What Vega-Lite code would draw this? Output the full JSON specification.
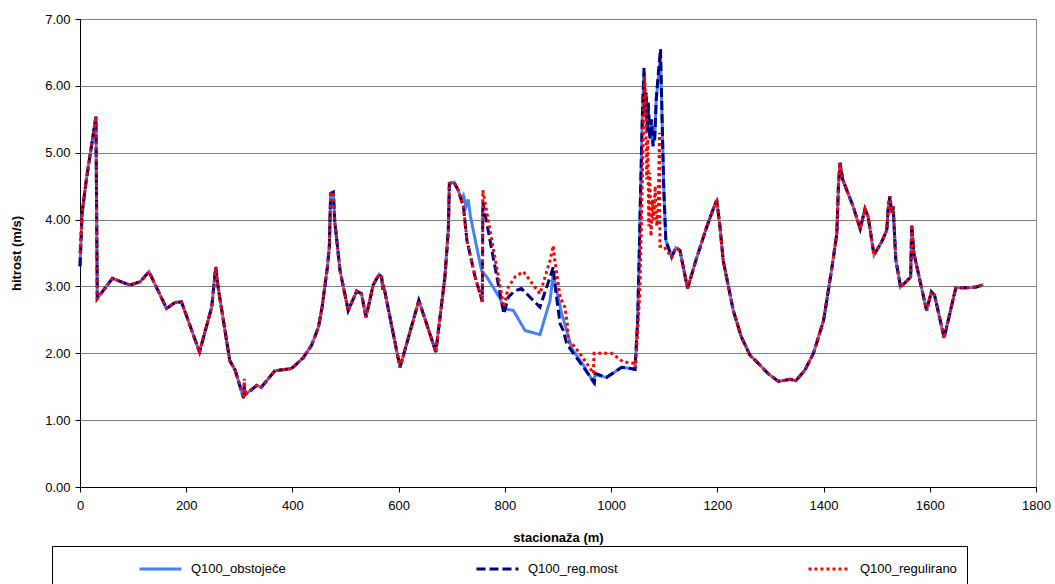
{
  "$schema": "https://vega.github.io/schema/vega-lite/v6.json",
  "width": 956,
  "height": 468,
  "autosize": {"type": "none"},
  "padding": {"left": 80, "top": 19, "right": 19, "bottom": 97},
  "background": "white",
  "config": {
    "font": "Liberation Sans",
    "view": {"stroke": "#888888", "strokeWidth": 1},
    "axis": {"domainColor": "#000000", "tickColor": "#000000", "gridColor": "#808080", "gridWidth": 1, "labelColor": "#000000", "titleColor": "#000000", "labelFontSize": 13, "titleFontSize": 13, "titleFontWeight": "bold", "tickSize": 5, "labelFont": "Liberation Sans", "titleFont": "Liberation Sans"}
  },
  "datasets": {
    "rows": [
      {"s":0,"v":3.3,"k":"Q100_obstoječe"},{"s":4,"v":4.1,"k":"Q100_obstoječe"},{"s":12,"v":4.6,"k":"Q100_obstoječe"},{"s":30,"v":5.54,"k":"Q100_obstoječe"},{"s":32.5,"v":2.82,"k":"Q100_obstoječe"},{"s":61,"v":3.12,"k":"Q100_obstoječe"},{"s":94,"v":3.02,"k":"Q100_obstoječe"},{"s":113,"v":3.07,"k":"Q100_obstoječe"},{"s":130,"v":3.22,"k":"Q100_obstoječe"},{"s":163,"v":2.67,"k":"Q100_obstoječe"},{"s":179,"v":2.76,"k":"Q100_obstoječe"},{"s":191,"v":2.77,"k":"Q100_obstoječe"},{"s":225,"v":2.02,"k":"Q100_obstoječe"},{"s":248,"v":2.69,"k":"Q100_obstoječe"},{"s":255.5,"v":3.29,"k":"Q100_obstoječe"},{"s":260,"v":2.99,"k":"Q100_obstoječe"},{"s":282,"v":1.89,"k":"Q100_obstoječe"},{"s":292,"v":1.75,"k":"Q100_obstoječe"},{"s":308,"v":1.33,"k":"Q100_obstoječe"},{"s":309.5,"v":1.5,"k":"Q100_obstoječe"},{"s":310.5,"v":1.38,"k":"Q100_obstoječe"},{"s":333,"v":1.52,"k":"Q100_obstoječe"},{"s":341,"v":1.49,"k":"Q100_obstoječe"},{"s":367,"v":1.74,"k":"Q100_obstoječe"},{"s":398,"v":1.77,"k":"Q100_obstoječe"},{"s":420,"v":1.93,"k":"Q100_obstoječe"},{"s":436,"v":2.12,"k":"Q100_obstoječe"},{"s":449,"v":2.39,"k":"Q100_obstoječe"},{"s":456,"v":2.7,"k":"Q100_obstoječe"},{"s":461,"v":3.0,"k":"Q100_obstoječe"},{"s":466,"v":3.3,"k":"Q100_obstoječe"},{"s":469.5,"v":3.6,"k":"Q100_obstoječe"},{"s":471,"v":4.1,"k":"Q100_obstoječe"},{"s":472,"v":4.39,"k":"Q100_obstoječe"},{"s":477,"v":4.41,"k":"Q100_obstoječe"},{"s":479.5,"v":3.99,"k":"Q100_obstoječe"},{"s":489.5,"v":3.24,"k":"Q100_obstoječe"},{"s":505,"v":2.64,"k":"Q100_obstoječe"},{"s":521,"v":2.93,"k":"Q100_obstoječe"},{"s":530,"v":2.89,"k":"Q100_obstoječe"},{"s":538.5,"v":2.54,"k":"Q100_obstoječe"},{"s":552,"v":3.02,"k":"Q100_obstoječe"},{"s":563,"v":3.18,"k":"Q100_obstoječe"},{"s":568,"v":3.14,"k":"Q100_obstoječe"},{"s":570,"v":2.95,"k":"Q100_obstoječe"},{"s":571.5,"v":3.02,"k":"Q100_obstoječe"},{"s":602.5,"v":1.79,"k":"Q100_obstoječe"},{"s":638,"v":2.79,"k":"Q100_obstoječe"},{"s":670,"v":2.02,"k":"Q100_obstoječe"},{"s":687,"v":3.14,"k":"Q100_obstoječe"},{"s":693.5,"v":3.84,"k":"Q100_obstoječe"},{"s":695.5,"v":4.54,"k":"Q100_obstoječe"},{"s":704,"v":4.56,"k":"Q100_obstoječe"},{"s":712,"v":4.44,"k":"Q100_obstoječe"},
      {"s":718,"v":4.3,"k":"Q100_obstoječe"},{"s":722,"v":4.36,"k":"Q100_obstoječe"},{"s":727,"v":4.2,"k":"Q100_obstoječe"},{"s":731,"v":4.3,"k":"Q100_obstoječe"},{"s":735,"v":4.05,"k":"Q100_obstoječe"},{"s":756,"v":3.24,"k":"Q100_obstoječe"},{"s":766,"v":3.14,"k":"Q100_obstoječe"},{"s":791,"v":2.82,"k":"Q100_obstoječe"},{"s":798,"v":2.67,"k":"Q100_obstoječe"},{"s":816,"v":2.64,"k":"Q100_obstoječe"},{"s":838,"v":2.34,"k":"Q100_obstoječe"},{"s":866,"v":2.28,"k":"Q100_obstoječe"},{"s":885,"v":2.79,"k":"Q100_obstoječe"},{"s":891,"v":3.18,"k":"Q100_obstoječe"},{"s":897.5,"v":2.94,"k":"Q100_obstoječe"},{"s":907,"v":2.59,"k":"Q100_obstoječe"},{"s":916.5,"v":2.34,"k":"Q100_obstoječe"},{"s":926,"v":2.07,"k":"Q100_obstoječe"},{"s":948,"v":1.82,"k":"Q100_obstoječe"},{"s":966.5,"v":1.57,"k":"Q100_obstoječe"},{"s":970,"v":1.68,"k":"Q100_obstoječe"},{"s":991.5,"v":1.64,"k":"Q100_obstoječe"},{"s":1020,"v":1.79,"k":"Q100_obstoječe"},{"s":1039,"v":1.77,"k":"Q100_obstoječe"},{"s":1045,"v":1.76,"k":"Q100_obstoječe"},{"s":1050,"v":2.5,"k":"Q100_obstoječe"},{"s":1053,"v":3.5,"k":"Q100_obstoječe"},{"s":1056,"v":4.6,"k":"Q100_obstoječe"},{"s":1059,"v":5.6,"k":"Q100_obstoječe"},{"s":1062,"v":6.2,"k":"Q100_obstoječe"},{"s":1064,"v":5.65,"k":"Q100_obstoječe"},{"s":1066,"v":5.85,"k":"Q100_obstoječe"},{"s":1068,"v":5.3,"k":"Q100_obstoječe"},{"s":1070,"v":5.7,"k":"Q100_obstoječe"},{"s":1073,"v":5.2,"k":"Q100_obstoječe"},{"s":1076,"v":5.45,"k":"Q100_obstoječe"},{"s":1079,"v":5.15,"k":"Q100_obstoječe"},{"s":1082,"v":5.2,"k":"Q100_obstoječe"},{"s":1085,"v":5.8,"k":"Q100_obstoječe"},{"s":1089,"v":6.15,"k":"Q100_obstoječe"},{"s":1093,"v":6.45,"k":"Q100_obstoječe"},{"s":1096,"v":5.5,"k":"Q100_obstoječe"},{"s":1099,"v":4.5,"k":"Q100_obstoječe"},{"s":1103,"v":3.69,"k":"Q100_obstoječe"},
      {"s":1114,"v":3.44,"k":"Q100_obstoječe"},{"s":1122,"v":3.58,"k":"Q100_obstoječe"},{"s":1129.5,"v":3.54,"k":"Q100_obstoječe"},{"s":1144,"v":2.97,"k":"Q100_obstoječe"},{"s":1160,"v":3.4,"k":"Q100_obstoječe"},{"s":1180,"v":3.89,"k":"Q100_obstoječe"},{"s":1197,"v":4.26,"k":"Q100_obstoječe"},{"s":1199,"v":4.28,"k":"Q100_obstoječe"},{"s":1205,"v":3.89,"k":"Q100_obstoječe"},{"s":1211,"v":3.39,"k":"Q100_obstoječe"},{"s":1230,"v":2.64,"k":"Q100_obstoječe"},{"s":1245,"v":2.25,"k":"Q100_obstoječe"},{"s":1261.5,"v":1.97,"k":"Q100_obstoječe"},{"s":1277,"v":1.85,"k":"Q100_obstoječe"},{"s":1295,"v":1.7,"k":"Q100_obstoječe"},{"s":1315,"v":1.58,"k":"Q100_obstoječe"},{"s":1337,"v":1.61,"k":"Q100_obstoječe"},{"s":1348,"v":1.59,"k":"Q100_obstoječe"},{"s":1365,"v":1.75,"k":"Q100_obstoječe"},{"s":1381,"v":2.0,"k":"Q100_obstoječe"},{"s":1400,"v":2.49,"k":"Q100_obstoječe"},{"s":1415,"v":3.24,"k":"Q100_obstoječe"},{"s":1425,"v":3.79,"k":"Q100_obstoječe"},{"s":1428,"v":4.5,"k":"Q100_obstoječe"},{"s":1431,"v":4.85,"k":"Q100_obstoječe"},{"s":1436,"v":4.6,"k":"Q100_obstoječe"},{"s":1456,"v":4.19,"k":"Q100_obstoječe"},{"s":1469,"v":3.86,"k":"Q100_obstoječe"},{"s":1478,"v":4.16,"k":"Q100_obstoječe"},{"s":1484,"v":4.04,"k":"Q100_obstoječe"},{"s":1495,"v":3.47,"k":"Q100_obstoječe"},{"s":1509,"v":3.66,"k":"Q100_obstoječe"},{"s":1519,"v":3.84,"k":"Q100_obstoječe"},{"s":1522,"v":4.2,"k":"Q100_obstoječe"},{"s":1525,"v":4.35,"k":"Q100_obstoječe"},{"s":1528,"v":4.1,"k":"Q100_obstoječe"},{"s":1531,"v":4.2,"k":"Q100_obstoječe"},{"s":1536,"v":3.4,"k":"Q100_obstoječe"},{"s":1545,"v":2.99,"k":"Q100_obstoječe"},{"s":1564,"v":3.14,"k":"Q100_obstoječe"},{"s":1566,"v":3.92,"k":"Q100_obstoječe"},{"s":1570,"v":3.5,"k":"Q100_obstoječe"},{"s":1594,"v":2.64,"k":"Q100_obstoječe"},{"s":1603,"v":2.92,"k":"Q100_obstoječe"},{"s":1609,"v":2.87,"k":"Q100_obstoječe"},{"s":1627,"v":2.23,"k":"Q100_obstoječe"},{"s":1649,"v":2.98,"k":"Q100_obstoječe"},{"s":1669,"v":2.98,"k":"Q100_obstoječe"},{"s":1688,"v":2.99,"k":"Q100_obstoječe"},{"s":1701,"v":3.03,"k":"Q100_obstoječe"},

      {"s":0,"v":3.3,"k":"Q100_reg.most"},{"s":4,"v":4.1,"k":"Q100_reg.most"},{"s":12,"v":4.6,"k":"Q100_reg.most"},{"s":30,"v":5.54,"k":"Q100_reg.most"},{"s":32.5,"v":2.82,"k":"Q100_reg.most"},{"s":61,"v":3.12,"k":"Q100_reg.most"},{"s":94,"v":3.02,"k":"Q100_reg.most"},{"s":113,"v":3.07,"k":"Q100_reg.most"},{"s":130,"v":3.22,"k":"Q100_reg.most"},{"s":163,"v":2.67,"k":"Q100_reg.most"},{"s":179,"v":2.76,"k":"Q100_reg.most"},{"s":191,"v":2.77,"k":"Q100_reg.most"},{"s":225,"v":2.02,"k":"Q100_reg.most"},{"s":248,"v":2.69,"k":"Q100_reg.most"},{"s":255.5,"v":3.29,"k":"Q100_reg.most"},{"s":260,"v":2.99,"k":"Q100_reg.most"},{"s":282,"v":1.89,"k":"Q100_reg.most"},{"s":292,"v":1.75,"k":"Q100_reg.most"},{"s":308,"v":1.33,"k":"Q100_reg.most"},{"s":309.5,"v":1.56,"k":"Q100_reg.most"},{"s":310.5,"v":1.38,"k":"Q100_reg.most"},{"s":333,"v":1.52,"k":"Q100_reg.most"},{"s":341,"v":1.49,"k":"Q100_reg.most"},{"s":367,"v":1.74,"k":"Q100_reg.most"},{"s":398,"v":1.77,"k":"Q100_reg.most"},{"s":420,"v":1.93,"k":"Q100_reg.most"},{"s":436,"v":2.12,"k":"Q100_reg.most"},{"s":449,"v":2.39,"k":"Q100_reg.most"},{"s":456,"v":2.7,"k":"Q100_reg.most"},{"s":461,"v":3.0,"k":"Q100_reg.most"},{"s":466,"v":3.3,"k":"Q100_reg.most"},{"s":469.5,"v":3.6,"k":"Q100_reg.most"},{"s":471,"v":4.1,"k":"Q100_reg.most"},{"s":472,"v":4.39,"k":"Q100_reg.most"},{"s":477,"v":4.41,"k":"Q100_reg.most"},{"s":479.5,"v":3.99,"k":"Q100_reg.most"},{"s":489.5,"v":3.24,"k":"Q100_reg.most"},{"s":505,"v":2.64,"k":"Q100_reg.most"},{"s":521,"v":2.93,"k":"Q100_reg.most"},{"s":530,"v":2.89,"k":"Q100_reg.most"},{"s":538.5,"v":2.54,"k":"Q100_reg.most"},{"s":552,"v":3.02,"k":"Q100_reg.most"},{"s":563,"v":3.18,"k":"Q100_reg.most"},{"s":568,"v":3.14,"k":"Q100_reg.most"},{"s":570,"v":2.95,"k":"Q100_reg.most"},{"s":571.5,"v":3.02,"k":"Q100_reg.most"},{"s":602.5,"v":1.79,"k":"Q100_reg.most"},{"s":638,"v":2.79,"k":"Q100_reg.most"},{"s":670,"v":2.02,"k":"Q100_reg.most"},{"s":687,"v":3.14,"k":"Q100_reg.most"},{"s":693.5,"v":3.84,"k":"Q100_reg.most"},{"s":695.5,"v":4.54,"k":"Q100_reg.most"},{"s":704,"v":4.56,"k":"Q100_reg.most"},{"s":712,"v":4.44,"k":"Q100_reg.most"},
      {"s":722,"v":4.19,"k":"Q100_reg.most"},{"s":728.5,"v":3.69,"k":"Q100_reg.most"},{"s":744,"v":3.14,"k":"Q100_reg.most"},{"s":757.5,"v":2.77,"k":"Q100_reg.most"},{"s":758.5,"v":4.26,"k":"Q100_reg.most"},{"s":798,"v":2.59,"k":"Q100_reg.most"},{"s":806.5,"v":2.84,"k":"Q100_reg.most"},{"s":818,"v":2.93,"k":"Q100_reg.most"},{"s":831,"v":2.97,"k":"Q100_reg.most"},{"s":866,"v":2.69,"k":"Q100_reg.most"},{"s":885,"v":3.14,"k":"Q100_reg.most"},{"s":891,"v":3.29,"k":"Q100_reg.most"},{"s":894,"v":3.04,"k":"Q100_reg.most"},{"s":904,"v":2.44,"k":"Q100_reg.most"},{"s":910,"v":2.34,"k":"Q100_reg.most"},{"s":916.5,"v":2.14,"k":"Q100_reg.most"},{"s":929,"v":2.0,"k":"Q100_reg.most"},{"s":948,"v":1.79,"k":"Q100_reg.most"},{"s":968.5,"v":1.56,"k":"Q100_reg.most"},{"s":970,"v":1.7,"k":"Q100_reg.most"},{"s":991.5,"v":1.64,"k":"Q100_reg.most"},{"s":1020,"v":1.79,"k":"Q100_reg.most"},{"s":1039,"v":1.77,"k":"Q100_reg.most"},{"s":1045,"v":1.76,"k":"Q100_reg.most"},{"s":1050,"v":2.5,"k":"Q100_reg.most"},{"s":1053,"v":3.5,"k":"Q100_reg.most"},{"s":1056,"v":4.6,"k":"Q100_reg.most"},{"s":1059,"v":5.6,"k":"Q100_reg.most"},{"s":1062,"v":6.27,"k":"Q100_reg.most"},{"s":1064,"v":5.6,"k":"Q100_reg.most"},{"s":1066,"v":5.9,"k":"Q100_reg.most"},{"s":1068,"v":5.3,"k":"Q100_reg.most"},{"s":1070,"v":5.75,"k":"Q100_reg.most"},{"s":1073,"v":5.2,"k":"Q100_reg.most"},{"s":1076,"v":5.5,"k":"Q100_reg.most"},{"s":1079,"v":5.1,"k":"Q100_reg.most"},{"s":1082,"v":5.2,"k":"Q100_reg.most"},{"s":1085,"v":5.8,"k":"Q100_reg.most"},{"s":1089,"v":6.2,"k":"Q100_reg.most"},{"s":1093,"v":6.55,"k":"Q100_reg.most"},{"s":1096,"v":5.5,"k":"Q100_reg.most"},{"s":1099,"v":4.5,"k":"Q100_reg.most"},{"s":1103,"v":3.69,"k":"Q100_reg.most"},
      {"s":1114,"v":3.44,"k":"Q100_reg.most"},{"s":1122,"v":3.58,"k":"Q100_reg.most"},{"s":1129.5,"v":3.54,"k":"Q100_reg.most"},{"s":1144,"v":2.97,"k":"Q100_reg.most"},{"s":1160,"v":3.4,"k":"Q100_reg.most"},{"s":1180,"v":3.89,"k":"Q100_reg.most"},{"s":1197,"v":4.26,"k":"Q100_reg.most"},{"s":1199,"v":4.28,"k":"Q100_reg.most"},{"s":1205,"v":3.89,"k":"Q100_reg.most"},{"s":1211,"v":3.39,"k":"Q100_reg.most"},{"s":1230,"v":2.64,"k":"Q100_reg.most"},{"s":1245,"v":2.25,"k":"Q100_reg.most"},{"s":1261.5,"v":1.97,"k":"Q100_reg.most"},{"s":1277,"v":1.85,"k":"Q100_reg.most"},{"s":1295,"v":1.7,"k":"Q100_reg.most"},{"s":1315,"v":1.58,"k":"Q100_reg.most"},{"s":1337,"v":1.61,"k":"Q100_reg.most"},{"s":1348,"v":1.59,"k":"Q100_reg.most"},{"s":1365,"v":1.75,"k":"Q100_reg.most"},{"s":1381,"v":2.0,"k":"Q100_reg.most"},{"s":1400,"v":2.49,"k":"Q100_reg.most"},{"s":1415,"v":3.24,"k":"Q100_reg.most"},{"s":1425,"v":3.79,"k":"Q100_reg.most"},{"s":1428,"v":4.5,"k":"Q100_reg.most"},{"s":1431,"v":4.85,"k":"Q100_reg.most"},{"s":1436,"v":4.6,"k":"Q100_reg.most"},{"s":1456,"v":4.19,"k":"Q100_reg.most"},{"s":1469,"v":3.86,"k":"Q100_reg.most"},{"s":1478,"v":4.16,"k":"Q100_reg.most"},{"s":1484,"v":4.04,"k":"Q100_reg.most"},{"s":1495,"v":3.47,"k":"Q100_reg.most"},{"s":1509,"v":3.66,"k":"Q100_reg.most"},{"s":1519,"v":3.84,"k":"Q100_reg.most"},{"s":1522,"v":4.2,"k":"Q100_reg.most"},{"s":1525,"v":4.35,"k":"Q100_reg.most"},{"s":1528,"v":4.1,"k":"Q100_reg.most"},{"s":1531,"v":4.2,"k":"Q100_reg.most"},{"s":1536,"v":3.4,"k":"Q100_reg.most"},{"s":1545,"v":2.99,"k":"Q100_reg.most"},{"s":1564,"v":3.14,"k":"Q100_reg.most"},{"s":1566,"v":3.92,"k":"Q100_reg.most"},{"s":1570,"v":3.5,"k":"Q100_reg.most"},{"s":1594,"v":2.64,"k":"Q100_reg.most"},{"s":1603,"v":2.92,"k":"Q100_reg.most"},{"s":1609,"v":2.87,"k":"Q100_reg.most"},{"s":1627,"v":2.23,"k":"Q100_reg.most"},{"s":1649,"v":2.98,"k":"Q100_reg.most"},{"s":1669,"v":2.98,"k":"Q100_reg.most"},{"s":1688,"v":2.99,"k":"Q100_reg.most"},{"s":1701,"v":3.03,"k":"Q100_reg.most"},

      {"s":0,"v":3.5,"k":"Q100_regulirano"},{"s":4,"v":4.1,"k":"Q100_regulirano"},{"s":12,"v":4.6,"k":"Q100_regulirano"},{"s":30,"v":5.54,"k":"Q100_regulirano"},{"s":32.5,"v":2.82,"k":"Q100_regulirano"},{"s":61,"v":3.12,"k":"Q100_regulirano"},{"s":94,"v":3.02,"k":"Q100_regulirano"},{"s":113,"v":3.07,"k":"Q100_regulirano"},{"s":130,"v":3.22,"k":"Q100_regulirano"},{"s":163,"v":2.67,"k":"Q100_regulirano"},{"s":179,"v":2.76,"k":"Q100_regulirano"},{"s":191,"v":2.77,"k":"Q100_regulirano"},{"s":225,"v":2.02,"k":"Q100_regulirano"},{"s":248,"v":2.69,"k":"Q100_regulirano"},{"s":255.5,"v":3.29,"k":"Q100_regulirano"},{"s":260,"v":2.99,"k":"Q100_regulirano"},{"s":282,"v":1.89,"k":"Q100_regulirano"},{"s":292,"v":1.75,"k":"Q100_regulirano"},{"s":308,"v":1.33,"k":"Q100_regulirano"},{"s":309.5,"v":1.62,"k":"Q100_regulirano"},{"s":310.5,"v":1.38,"k":"Q100_regulirano"},{"s":333,"v":1.52,"k":"Q100_regulirano"},{"s":341,"v":1.49,"k":"Q100_regulirano"},{"s":367,"v":1.74,"k":"Q100_regulirano"},{"s":398,"v":1.77,"k":"Q100_regulirano"},{"s":420,"v":1.93,"k":"Q100_regulirano"},{"s":436,"v":2.12,"k":"Q100_regulirano"},{"s":449,"v":2.39,"k":"Q100_regulirano"},{"s":456,"v":2.7,"k":"Q100_regulirano"},{"s":461,"v":3.0,"k":"Q100_regulirano"},{"s":466,"v":3.3,"k":"Q100_regulirano"},{"s":469.5,"v":3.6,"k":"Q100_regulirano"},{"s":471,"v":4.1,"k":"Q100_regulirano"},{"s":472,"v":4.39,"k":"Q100_regulirano"},{"s":477,"v":4.41,"k":"Q100_regulirano"},{"s":479.5,"v":3.99,"k":"Q100_regulirano"},{"s":489.5,"v":3.24,"k":"Q100_regulirano"},{"s":505,"v":2.64,"k":"Q100_regulirano"},{"s":521,"v":2.93,"k":"Q100_regulirano"},{"s":530,"v":2.89,"k":"Q100_regulirano"},{"s":538.5,"v":2.54,"k":"Q100_regulirano"},{"s":552,"v":3.02,"k":"Q100_regulirano"},{"s":563,"v":3.18,"k":"Q100_regulirano"},{"s":568,"v":3.14,"k":"Q100_regulirano"},{"s":570,"v":2.95,"k":"Q100_regulirano"},{"s":571.5,"v":3.02,"k":"Q100_regulirano"},{"s":602.5,"v":1.79,"k":"Q100_regulirano"},{"s":638,"v":2.79,"k":"Q100_regulirano"},{"s":670,"v":2.02,"k":"Q100_regulirano"},{"s":687,"v":3.14,"k":"Q100_regulirano"},{"s":693.5,"v":3.84,"k":"Q100_regulirano"},{"s":695.5,"v":4.54,"k":"Q100_regulirano"},{"s":704,"v":4.56,"k":"Q100_regulirano"},{"s":712,"v":4.44,"k":"Q100_regulirano"},
      {"s":722,"v":4.19,"k":"Q100_regulirano"},{"s":728.5,"v":3.69,"k":"Q100_regulirano"},{"s":744,"v":3.14,"k":"Q100_regulirano"},{"s":757.5,"v":2.77,"k":"Q100_regulirano"},{"s":758.5,"v":4.44,"k":"Q100_regulirano"},{"s":798,"v":2.69,"k":"Q100_regulirano"},{"s":806.5,"v":2.99,"k":"Q100_regulirano"},{"s":820,"v":3.15,"k":"Q100_regulirano"},{"s":835,"v":3.22,"k":"Q100_regulirano"},{"s":866,"v":2.89,"k":"Q100_regulirano"},{"s":885,"v":3.39,"k":"Q100_regulirano"},{"s":891,"v":3.61,"k":"Q100_regulirano"},{"s":894,"v":3.39,"k":"Q100_regulirano"},{"s":904,"v":2.84,"k":"Q100_regulirano"},{"s":913,"v":2.69,"k":"Q100_regulirano"},{"s":917.5,"v":2.44,"k":"Q100_regulirano"},{"s":919.5,"v":2.17,"k":"Q100_regulirano"},{"s":929,"v":2.12,"k":"Q100_regulirano"},{"s":941,"v":2.0,"k":"Q100_regulirano"},{"s":954,"v":1.85,"k":"Q100_regulirano"},{"s":966.5,"v":1.7,"k":"Q100_regulirano"},{"s":968,"v":2.0,"k":"Q100_regulirano"},{"s":1001,"v":2.0,"k":"Q100_regulirano"},{"s":1023,"v":1.87,"k":"Q100_regulirano"},{"s":1045,"v":1.85,"k":"Q100_regulirano"},{"s":1046,"v":1.79,"k":"Q100_regulirano"},{"s":1051,"v":2.49,"k":"Q100_regulirano"},{"s":1054,"v":2.89,"k":"Q100_regulirano"},{"s":1057,"v":3.89,"k":"Q100_regulirano"},{"s":1061,"v":5.5,"k":"Q100_regulirano"},{"s":1063,"v":6.15,"k":"Q100_regulirano"},{"s":1065,"v":5.8,"k":"Q100_regulirano"},{"s":1067,"v":4.6,"k":"Q100_regulirano"},{"s":1069,"v":5.2,"k":"Q100_regulirano"},{"s":1071,"v":3.9,"k":"Q100_regulirano"},{"s":1073,"v":4.7,"k":"Q100_regulirano"},{"s":1075,"v":3.75,"k":"Q100_regulirano"},{"s":1078,"v":4.3,"k":"Q100_regulirano"},{"s":1080,"v":4.0,"k":"Q100_regulirano"},{"s":1083,"v":4.5,"k":"Q100_regulirano"},{"s":1086,"v":3.9,"k":"Q100_regulirano"},{"s":1089,"v":4.2,"k":"Q100_regulirano"},{"s":1091,"v":5.3,"k":"Q100_regulirano"},{"s":1092,"v":3.6,"k":"Q100_regulirano"},{"s":1100,"v":3.6,"k":"Q100_regulirano"},{"s":1103,"v":3.55,"k":"Q100_regulirano"},
      {"s":1114,"v":3.44,"k":"Q100_regulirano"},{"s":1122,"v":3.58,"k":"Q100_regulirano"},{"s":1129.5,"v":3.54,"k":"Q100_regulirano"},{"s":1144,"v":2.97,"k":"Q100_regulirano"},{"s":1160,"v":3.4,"k":"Q100_regulirano"},{"s":1180,"v":3.89,"k":"Q100_regulirano"},{"s":1197,"v":4.26,"k":"Q100_regulirano"},{"s":1199,"v":4.28,"k":"Q100_regulirano"},{"s":1205,"v":3.89,"k":"Q100_regulirano"},{"s":1211,"v":3.39,"k":"Q100_regulirano"},{"s":1230,"v":2.64,"k":"Q100_regulirano"},{"s":1245,"v":2.25,"k":"Q100_regulirano"},{"s":1261.5,"v":1.97,"k":"Q100_regulirano"},{"s":1277,"v":1.85,"k":"Q100_regulirano"},{"s":1295,"v":1.7,"k":"Q100_regulirano"},{"s":1315,"v":1.58,"k":"Q100_regulirano"},{"s":1337,"v":1.61,"k":"Q100_regulirano"},{"s":1348,"v":1.59,"k":"Q100_regulirano"},{"s":1365,"v":1.75,"k":"Q100_regulirano"},{"s":1381,"v":2.0,"k":"Q100_regulirano"},{"s":1400,"v":2.49,"k":"Q100_regulirano"},{"s":1415,"v":3.24,"k":"Q100_regulirano"},{"s":1425,"v":3.79,"k":"Q100_regulirano"},{"s":1428,"v":4.5,"k":"Q100_regulirano"},{"s":1431,"v":4.85,"k":"Q100_regulirano"},{"s":1436,"v":4.6,"k":"Q100_regulirano"},{"s":1456,"v":4.19,"k":"Q100_regulirano"},{"s":1469,"v":3.86,"k":"Q100_regulirano"},{"s":1478,"v":4.16,"k":"Q100_regulirano"},{"s":1484,"v":4.04,"k":"Q100_regulirano"},{"s":1495,"v":3.47,"k":"Q100_regulirano"},{"s":1509,"v":3.66,"k":"Q100_regulirano"},{"s":1519,"v":3.84,"k":"Q100_regulirano"},{"s":1522,"v":4.2,"k":"Q100_regulirano"},{"s":1525,"v":4.35,"k":"Q100_regulirano"},{"s":1528,"v":4.1,"k":"Q100_regulirano"},{"s":1531,"v":4.2,"k":"Q100_regulirano"},{"s":1536,"v":3.4,"k":"Q100_regulirano"},{"s":1545,"v":2.99,"k":"Q100_regulirano"},{"s":1564,"v":3.14,"k":"Q100_regulirano"},{"s":1566,"v":3.92,"k":"Q100_regulirano"},{"s":1570,"v":3.5,"k":"Q100_regulirano"},{"s":1594,"v":2.64,"k":"Q100_regulirano"},{"s":1603,"v":2.92,"k":"Q100_regulirano"},{"s":1609,"v":2.87,"k":"Q100_regulirano"},{"s":1627,"v":2.23,"k":"Q100_regulirano"},{"s":1649,"v":2.98,"k":"Q100_regulirano"},{"s":1669,"v":2.98,"k":"Q100_regulirano"},{"s":1688,"v":2.99,"k":"Q100_regulirano"},{"s":1701,"v":3.03,"k":"Q100_regulirano"}
    ]
  },
  "data": {"name": "rows"},
  "mark": {"type": "line", "strokeWidth": 3, "interpolate": "linear"},
  "encoding": {
    "x": {"field": "s", "type": "quantitative", "scale": {"domain": [0, 1800], "nice": false},
      "axis": {"title": "stacionaža (m)", "values": [0,200,400,600,800,1000,1200,1400,1600,1800], "format": "d", "labelFlush": false, "grid": false, "labelPadding": 7, "titlePadding": 19}},
    "y": {"field": "v", "type": "quantitative", "scale": {"domain": [0, 7], "nice": false},
      "axis": {"title": "hitrost (m/s)", "values": [0,1,2,3,4,5,6,7], "format": ".2f", "grid": true, "labelPadding": 5, "titlePadding": 21}},
    "color": {"field": "k", "type": "nominal",
      "scale": {"domain": ["Q100_obstoječe", "Q100_reg.most", "Q100_regulirano"], "range": ["#4282F5", "#000080", "#FF0000"]},
      "legend": {"title": null, "orient": "none", "legendX": -28, "legendY": 527, "direction": "horizontal", "columns": 3,
        "strokeColor": "#000000", "padding": 10, "symbolType": "stroke", "symbolSize": 1764, "symbolStrokeWidth": 3,
        "symbolOffset": 76, "labelOffset": 8, "labelFontSize": 13, "labelFont": "Liberation Sans", "labelColor": "#000000",
        "columnPadding": 113, "clipHeight": 26, "labelLimit": 300}},
    "strokeDash": {"field": "k", "type": "nominal",
      "scale": {"domain": ["Q100_obstoječe", "Q100_reg.most", "Q100_regulirano"], "range": [[1, 0], [9, 4], [3, 3]]},
      "legend": {"title": null, "orient": "none", "legendX": -28, "legendY": 527, "direction": "horizontal", "columns": 3,
        "strokeColor": "#000000", "padding": 10, "symbolType": "stroke", "symbolSize": 1764, "symbolStrokeWidth": 3,
        "symbolOffset": 76, "labelOffset": 8, "labelFontSize": 13, "labelFont": "Liberation Sans", "labelColor": "#000000",
        "columnPadding": 113, "clipHeight": 26, "labelLimit": 300}}
  }
}
